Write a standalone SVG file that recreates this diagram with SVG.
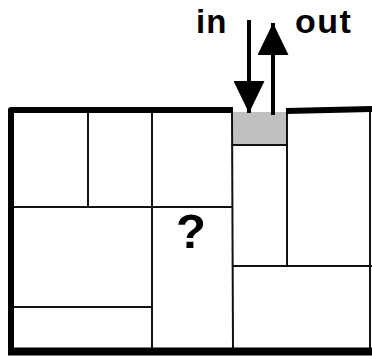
<svg xmlns="http://www.w3.org/2000/svg" width="372" height="357" viewBox="0 0 372 357">
<style>
.thick{stroke:#000;stroke-width:6;fill:none;stroke-linejoin:round}
.thin{stroke:#111;stroke-width:2;fill:none}
.lbl{font-family:"Liberation Sans",Arial,sans-serif;font-weight:bold;fill:#000}
</style>
<defs>
<marker id="ah" viewBox="0 0 32 31" refX="32" refY="15.5" markerWidth="32" markerHeight="31" markerUnits="userSpaceOnUse" orient="auto">
<path d="M0,0 L32,15.5 L0,31 Z" fill="#000"/>
</marker>
</defs>
<rect width="372" height="357" fill="#fff"/>
<g id="port">
<rect x="232" y="112" width="55" height="33" fill="#c0c0c0"/>
<line class="thin" x1="232" y1="145" x2="287" y2="145"/>
</g>
<g id="cells">
<line class="thin" x1="88" y1="112" x2="88" y2="207"/>
<line class="thin" x1="152" y1="112" x2="152" y2="348"/>
<line class="thin" x1="12" y1="207" x2="232" y2="207"/>
<line class="thin" x1="12" y1="307" x2="152" y2="307"/>
<line class="thin" x1="232" y1="112" x2="233" y2="348"/>
<line class="thin" x1="287" y1="112" x2="287" y2="267"/>
<line class="thin" x1="232" y1="266" x2="372" y2="266"/>
<line class="thin" x1="370" y1="110" x2="370" y2="348"/>
</g>
<g id="walls">
<path class="thick" d="M233,110 L11,110 L11,351"/>
<line class="thick" x1="286" y1="111" x2="372" y2="109"/>
<line x1="8" y1="351.5" x2="372" y2="351.5" stroke="#000" stroke-width="8"/>
</g>
<g id="connectors">
<line x1="249" y1="20" x2="249" y2="113" stroke="#000" stroke-width="4" marker-end="url(#ah)"/>
<line x1="273" y1="115" x2="273" y2="23" stroke="#000" stroke-width="4" marker-end="url(#ah)"/>
</g>
<g id="labels">
<text class="lbl" x="196" y="33" font-size="33" letter-spacing="1">in</text>
<text class="lbl" x="295" y="33" font-size="34" letter-spacing="1.5">out</text>
<text class="lbl" x="176" y="248" font-size="49">?</text>
</g>
</svg>
